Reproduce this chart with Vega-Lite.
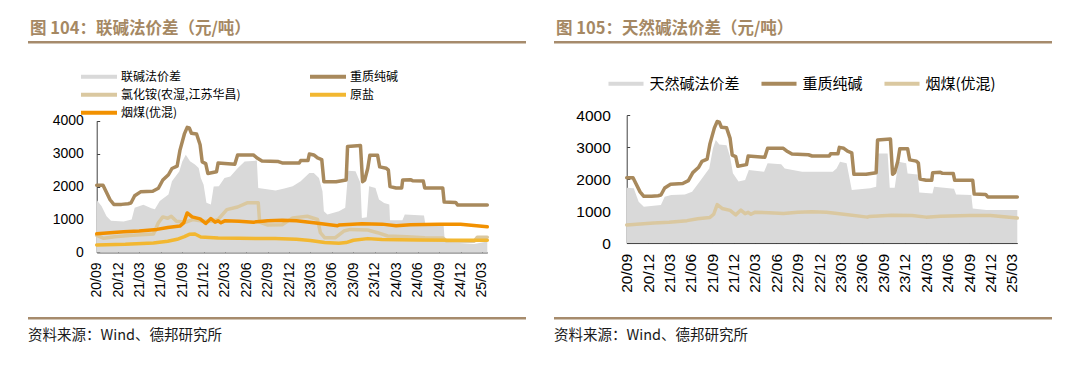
{
  "$schema": "https://vega.github.io/schema/vega-lite/v6.json",
  "background": "white",
  "padding": {"left": 28, "top": 20, "right": 0, "bottom": 0},
  "bounds": "flush",
  "columns": 2,
  "spacing": {"row": 0, "column": 28},
  "resolve": {"scale": {"color": "independent"}, "legend": {"color": "independent"}},
  "config": {
    "view": {"stroke": null},
    "font": "Noto Sans CJK SC",
    "axis": {"grid": false, "domainColor": "#404040", "tickColor": "#404040", "labelColor": "#000000", "labelFont": "Liberation Sans", "title": null, "labelOverlap": false, "labelFlush": false}
  },
  "datasets": {
    "main": [
      {"s":"联碱法价差","d":"2020-09-01","v":1590},{"s":"联碱法价差","d":"2020-09-22","v":1400},{"s":"联碱法价差","d":"2020-10-13","v":1100},{"s":"联碱法价差","d":"2020-11-01","v":960},{"s":"联碱法价差","d":"2020-12-25","v":940},{"s":"联碱法价差","d":"2021-01-28","v":1000},{"s":"联碱法价差","d":"2021-02-10","v":1360},{"s":"联碱法价差","d":"2021-03-19","v":1450},{"s":"联碱法价差","d":"2021-04-22","v":1340},{"s":"联碱法价差","d":"2021-05-07","v":1310},{"s":"联碱法价差","d":"2021-05-28","v":1560},{"s":"联碱法价差","d":"2021-07-04","v":1760},{"s":"联碱法价差","d":"2021-07-19","v":2160},{"s":"联碱法价差","d":"2021-08-19","v":2460},{"s":"联碱法价差","d":"2021-09-01","v":2765},{"s":"联碱法价差","d":"2021-09-16","v":2970},{"s":"联碱法价差","d":"2021-10-04","v":2770},{"s":"联碱法价差","d":"2021-10-25","v":2670},{"s":"联碱法价差","d":"2021-11-10","v":2565},{"s":"联碱法价差","d":"2021-11-19","v":2260},{"s":"联碱法价差","d":"2021-12-01","v":2060},{"s":"联碱法价差","d":"2021-12-13","v":1510},{"s":"联碱法价差","d":"2022-01-01","v":1455},{"s":"联碱法价差","d":"2022-01-13","v":2000},{"s":"联碱法价差","d":"2022-02-04","v":2010},{"s":"联碱法价差","d":"2022-02-28","v":2260},{"s":"联碱法价差","d":"2022-03-25","v":2310},{"s":"联碱法价差","d":"2022-04-25","v":2560},{"s":"联碱法价差","d":"2022-05-25","v":2765},{"s":"联碱法价差","d":"2022-07-16","v":2790},{"s":"联碱法价差","d":"2022-07-22","v":1960},{"s":"联碱法价差","d":"2022-10-04","v":1880},{"s":"联碱法价差","d":"2022-11-10","v":1940},{"s":"联碱法价差","d":"2022-12-16","v":2010},{"s":"联碱法价差","d":"2023-01-19","v":2160},{"s":"联碱法价差","d":"2023-02-25","v":2415},{"s":"联碱法价差","d":"2023-03-16","v":2415},{"s":"联碱法价差","d":"2023-04-07","v":2260},{"s":"联碱法价差","d":"2023-04-22","v":1860},{"s":"联碱法价差","d":"2023-04-28","v":1250},{"s":"联碱法价差","d":"2023-05-13","v":1150},{"s":"联碱法价差","d":"2023-07-01","v":1250},{"s":"联碱法价差","d":"2023-07-28","v":1355},{"s":"联碱法价差","d":"2023-08-10","v":2480},{"s":"联碱法价差","d":"2023-09-10","v":2465},{"s":"联碱法价差","d":"2023-10-01","v":2110},{"s":"联碱法价差","d":"2023-10-07","v":1050},{"s":"联碱法价差","d":"2023-10-28","v":1070},{"s":"联碱法价差","d":"2023-11-07","v":2010},{"s":"联碱法价差","d":"2023-12-04","v":1960},{"s":"联碱法价差","d":"2023-12-19","v":1605},{"s":"联碱法价差","d":"2024-01-10","v":1505},{"s":"联碱法价差","d":"2024-02-01","v":1455},{"s":"联碱法价差","d":"2024-02-04","v":980},{"s":"联碱法价差","d":"2024-03-28","v":980},{"s":"联碱法价差","d":"2024-04-07","v":1150},{"s":"联碱法价差","d":"2024-06-28","v":1120},{"s":"联碱法价差","d":"2024-07-04","v":850},{"s":"联碱法价差","d":"2024-09-19","v":880},{"s":"联碱法价差","d":"2024-09-25","v":320},{"s":"联碱法价差","d":"2025-01-28","v":260},{"s":"联碱法价差","d":"2025-03-25","v":330},
      {"s":"天然碱法价差","d":"2020-09-01","v":1730},{"s":"天然碱法价差","d":"2020-10-01","v":1710},{"s":"天然碱法价差","d":"2020-10-22","v":1290},{"s":"天然碱法价差","d":"2020-11-13","v":1135},{"s":"天然碱法价差","d":"2021-01-25","v":1190},{"s":"天然碱法价差","d":"2021-02-10","v":1450},{"s":"天然碱法价差","d":"2021-03-10","v":1500},{"s":"天然碱法价差","d":"2021-05-07","v":1520},{"s":"天然碱法价差","d":"2021-06-07","v":1600},{"s":"天然碱法价差","d":"2021-07-19","v":2020},{"s":"天然碱法价差","d":"2021-08-19","v":2330},{"s":"天然碱法价差","d":"2021-09-04","v":2960},{"s":"天然碱法价差","d":"2021-09-16","v":3220},{"s":"天然碱法价差","d":"2021-10-01","v":3080},{"s":"天然碱法价差","d":"2021-11-01","v":3060},{"s":"天然碱法价差","d":"2021-11-16","v":2700},{"s":"天然碱法价差","d":"2021-11-28","v":2180},{"s":"天然碱法价差","d":"2021-12-22","v":1920},{"s":"天然碱法价差","d":"2022-01-19","v":1970},{"s":"天然碱法价差","d":"2022-02-04","v":2280},{"s":"天然碱法价差","d":"2022-04-10","v":2230},{"s":"天然碱法价差","d":"2022-04-25","v":2490},{"s":"天然碱法价差","d":"2022-06-22","v":2460},{"s":"天然碱法价差","d":"2022-07-07","v":2330},{"s":"天然碱法价差","d":"2022-09-19","v":2230},{"s":"天然碱法价差","d":"2023-01-28","v":2230},{"s":"天然碱法价差","d":"2023-02-13","v":2330},{"s":"天然碱法价差","d":"2023-02-28","v":2540},{"s":"天然碱法价差","d":"2023-03-28","v":2490},{"s":"天然碱法价差","d":"2023-04-19","v":1660},{"s":"天然碱法价差","d":"2023-07-07","v":1710},{"s":"天然碱法价差","d":"2023-08-01","v":1760},{"s":"天然碱法价差","d":"2023-08-07","v":2800},{"s":"天然碱法价差","d":"2023-09-19","v":2800},{"s":"天然碱法价差","d":"2023-09-28","v":1730},{"s":"天然碱法价差","d":"2023-10-19","v":1730},{"s":"天然碱法价差","d":"2023-11-04","v":2540},{"s":"天然碱法价差","d":"2023-12-07","v":2490},{"s":"天然碱法价差","d":"2023-12-13","v":2175},{"s":"天然碱法价差","d":"2024-01-25","v":2140},{"s":"天然碱法价差","d":"2024-02-01","v":1580},{"s":"天然碱法价差","d":"2024-03-28","v":1550},{"s":"天然碱法价差","d":"2024-04-04","v":1760},{"s":"天然碱法价差","d":"2024-06-28","v":1700},{"s":"天然碱法价差","d":"2024-07-07","v":1520},{"s":"天然碱法价差","d":"2024-09-10","v":1500},{"s":"天然碱法价差","d":"2024-09-16","v":1080},{"s":"天然碱法价差","d":"2024-11-13","v":1030},{"s":"天然碱法价差","d":"2025-03-25","v":1030},
      {"s":"氯化铵(农湿,江苏华昌)","d":"2020-09-01","v":520},{"s":"氯化铵(农湿,江苏华昌)","d":"2020-10-01","v":430},{"s":"氯化铵(农湿,江苏华昌)","d":"2020-11-16","v":480},{"s":"氯化铵(农湿,江苏华昌)","d":"2021-02-01","v":520},{"s":"氯化铵(农湿,江苏华昌)","d":"2021-05-01","v":560},{"s":"氯化铵(农湿,江苏华昌)","d":"2021-05-22","v":900},{"s":"氯化铵(农湿,江苏华昌)","d":"2021-06-10","v":1080},{"s":"氯化铵(农湿,江苏华昌)","d":"2021-07-01","v":1040},{"s":"氯化铵(农湿,江苏华昌)","d":"2021-07-16","v":1100},{"s":"氯化铵(农湿,江苏华昌)","d":"2021-08-07","v":950},{"s":"氯化铵(农湿,江苏华昌)","d":"2021-09-16","v":920},{"s":"氯化铵(农湿,江苏华昌)","d":"2021-10-16","v":1000},{"s":"氯化铵(农湿,江苏华昌)","d":"2021-12-01","v":950},{"s":"氯化铵(农湿,江苏华昌)","d":"2022-01-01","v":950},{"s":"氯化铵(农湿,江苏华昌)","d":"2022-02-01","v":1000},{"s":"氯化铵(农湿,江苏华昌)","d":"2022-03-10","v":1300},{"s":"氯化铵(农湿,江苏华昌)","d":"2022-04-25","v":1380},{"s":"氯化铵(农湿,江苏华昌)","d":"2022-06-07","v":1510},{"s":"氯化铵(农湿,江苏华昌)","d":"2022-07-22","v":1510},{"s":"氯化铵(农湿,江苏华昌)","d":"2022-07-28","v":920},{"s":"氯化铵(农湿,江苏华昌)","d":"2022-09-01","v":830},{"s":"氯化铵(农湿,江苏华昌)","d":"2022-11-01","v":840},{"s":"氯化铵(农湿,江苏华昌)","d":"2022-12-16","v":1050},{"s":"氯化铵(农湿,江苏华昌)","d":"2023-02-16","v":1100},{"s":"氯化铵(农湿,江苏华昌)","d":"2023-04-01","v":1000},{"s":"氯化铵(农湿,江苏华昌)","d":"2023-04-13","v":600},{"s":"氯化铵(农湿,江苏华昌)","d":"2023-05-01","v":450},{"s":"氯化铵(农湿,江苏华昌)","d":"2023-06-16","v":450},{"s":"氯化铵(农湿,江苏华昌)","d":"2023-07-22","v":650},{"s":"氯化铵(农湿,江苏华昌)","d":"2023-08-19","v":700},{"s":"氯化铵(农湿,江苏华昌)","d":"2023-11-01","v":680},{"s":"氯化铵(农湿,江苏华昌)","d":"2023-12-13","v":600},{"s":"氯化铵(农湿,江苏华昌)","d":"2024-01-25","v":500},{"s":"氯化铵(农湿,江苏华昌)","d":"2024-04-16","v":480},{"s":"氯化铵(农湿,江苏华昌)","d":"2024-07-01","v":450},{"s":"氯化铵(农湿,江苏华昌)","d":"2024-09-16","v":440},{"s":"氯化铵(农湿,江苏华昌)","d":"2024-10-01","v":350},{"s":"氯化铵(农湿,江苏华昌)","d":"2025-01-28","v":340},{"s":"氯化铵(农湿,江苏华昌)","d":"2025-02-10","v":460},{"s":"氯化铵(农湿,江苏华昌)","d":"2025-03-25","v":460},
      {"s":"原盐","d":"2020-09-01","v":230},{"s":"原盐","d":"2021-01-01","v":250},{"s":"原盐","d":"2021-05-01","v":290},{"s":"原盐","d":"2021-07-01","v":340},{"s":"原盐","d":"2021-08-10","v":400},{"s":"原盐","d":"2021-09-10","v":480},{"s":"原盐","d":"2021-10-01","v":550},{"s":"原盐","d":"2021-10-25","v":560},{"s":"原盐","d":"2021-11-19","v":470},{"s":"原盐","d":"2022-02-01","v":440},{"s":"原盐","d":"2022-05-01","v":430},{"s":"原盐","d":"2022-10-01","v":420},{"s":"原盐","d":"2023-01-01","v":400},{"s":"原盐","d":"2023-03-01","v":360},{"s":"原盐","d":"2023-05-01","v":300},{"s":"原盐","d":"2023-07-01","v":280},{"s":"原盐","d":"2023-08-01","v":300},{"s":"原盐","d":"2023-09-01","v":370},{"s":"原盐","d":"2023-11-01","v":420},{"s":"原盐","d":"2024-01-01","v":390},{"s":"原盐","d":"2024-06-01","v":380},{"s":"原盐","d":"2024-11-01","v":370},{"s":"原盐","d":"2025-03-25","v":370},
      {"s":"烟煤(优混)","d":"2020-09-01","v":566},{"s":"烟煤(优混)","d":"2020-12-25","v":626},{"s":"烟煤(优混)","d":"2021-03-01","v":650},{"s":"烟煤(优混)","d":"2021-05-16","v":700},{"s":"烟煤(优混)","d":"2021-07-01","v":760},{"s":"烟煤(优混)","d":"2021-08-22","v":800},{"s":"烟煤(优混)","d":"2021-09-07","v":900},{"s":"烟煤(优混)","d":"2021-09-22","v":1200},{"s":"烟煤(优混)","d":"2021-10-13","v":1080},{"s":"烟煤(优混)","d":"2021-11-16","v":1020},{"s":"烟煤(优混)","d":"2021-12-10","v":880},{"s":"烟煤(优混)","d":"2022-01-01","v":1030},{"s":"烟煤(优混)","d":"2022-01-19","v":920},{"s":"烟煤(优混)","d":"2022-02-01","v":960},{"s":"烟煤(优混)","d":"2022-02-13","v":900},{"s":"烟煤(优混)","d":"2022-03-01","v":960},{"s":"烟煤(优混)","d":"2022-05-01","v":950},{"s":"烟煤(优混)","d":"2022-07-01","v":920},{"s":"烟煤(优混)","d":"2022-09-01","v":960},{"s":"烟煤(优混)","d":"2022-11-01","v":975},{"s":"烟煤(优混)","d":"2023-01-01","v":960},{"s":"烟煤(优混)","d":"2023-03-16","v":900},{"s":"烟煤(优混)","d":"2023-06-25","v":810},{"s":"烟煤(优混)","d":"2023-07-01","v":830},{"s":"烟煤(优混)","d":"2023-10-07","v":870},{"s":"烟煤(优混)","d":"2024-01-01","v":860},{"s":"烟煤(优混)","d":"2024-03-01","v":810},{"s":"烟煤(优混)","d":"2024-05-01","v":840},{"s":"烟煤(优混)","d":"2024-09-01","v":860},{"s":"烟煤(优混)","d":"2024-12-01","v":860},{"s":"烟煤(优混)","d":"2025-03-25","v":780},
      {"s":"重质纯碱","d":"2020-09-01","v":2040},{"s":"重质纯碱","d":"2020-09-28","v":2040},{"s":"重质纯碱","d":"2020-10-28","v":1600},{"s":"重质纯碱","d":"2020-11-13","v":1460},{"s":"重质纯碱","d":"2020-12-16","v":1460},{"s":"重质纯碱","d":"2021-01-13","v":1480},{"s":"重质纯碱","d":"2021-01-25","v":1500},{"s":"重质纯碱","d":"2021-02-10","v":1720},{"s":"重质纯碱","d":"2021-03-07","v":1840},{"s":"重质纯碱","d":"2021-04-28","v":1860},{"s":"重质纯碱","d":"2021-05-22","v":1950},{"s":"重质纯碱","d":"2021-06-10","v":2200},{"s":"重质纯碱","d":"2021-07-04","v":2360},{"s":"重质纯碱","d":"2021-07-19","v":2550},{"s":"重质纯碱","d":"2021-08-10","v":2620},{"s":"重质纯碱","d":"2021-08-22","v":3100},{"s":"重质纯碱","d":"2021-09-10","v":3600},{"s":"重质纯碱","d":"2021-09-22","v":3800},{"s":"重质纯碱","d":"2021-10-01","v":3780},{"s":"重质纯碱","d":"2021-10-10","v":3620},{"s":"重质纯碱","d":"2021-11-01","v":3600},{"s":"重质纯碱","d":"2021-11-16","v":3270},{"s":"重质纯碱","d":"2021-11-25","v":2750},{"s":"重质纯碱","d":"2021-12-10","v":2700},{"s":"重质纯碱","d":"2021-12-19","v":2400},{"s":"重质纯碱","d":"2022-01-25","v":2450},{"s":"重质纯碱","d":"2022-02-01","v":2720},{"s":"重质纯碱","d":"2022-04-13","v":2680},{"s":"重质纯碱","d":"2022-04-25","v":2960},{"s":"重质纯碱","d":"2022-07-01","v":2960},{"s":"重质纯碱","d":"2022-07-19","v":2860},{"s":"重质纯碱","d":"2022-08-07","v":2780},{"s":"重质纯碱","d":"2022-10-16","v":2760},{"s":"重质纯碱","d":"2022-11-01","v":2720},{"s":"重质纯碱","d":"2023-01-13","v":2720},{"s":"重质纯碱","d":"2023-01-19","v":2790},{"s":"重质纯碱","d":"2023-02-19","v":2790},{"s":"重质纯碱","d":"2023-02-25","v":2990},{"s":"重质纯碱","d":"2023-03-16","v":2960},{"s":"重质纯碱","d":"2023-04-01","v":2870},{"s":"重质纯碱","d":"2023-04-19","v":2820},{"s":"重质纯碱","d":"2023-04-28","v":2150},{"s":"重质纯碱","d":"2023-06-19","v":2150},{"s":"重质纯碱","d":"2023-08-01","v":2200},{"s":"重质纯碱","d":"2023-08-07","v":3220},{"s":"重质纯碱","d":"2023-10-01","v":3250},{"s":"重质纯碱","d":"2023-10-10","v":2150},{"s":"重质纯碱","d":"2023-10-19","v":2200},{"s":"重质纯碱","d":"2023-11-01","v":2550},{"s":"重质纯碱","d":"2023-11-10","v":2950},{"s":"重质纯碱","d":"2023-12-13","v":2950},{"s":"重质纯碱","d":"2023-12-22","v":2600},{"s":"重质纯碱","d":"2024-01-19","v":2560},{"s":"重质纯碱","d":"2024-01-28","v":2500},{"s":"重质纯碱","d":"2024-02-04","v":2000},{"s":"重质纯碱","d":"2024-03-01","v":1960},{"s":"重质纯碱","d":"2024-03-25","v":1960},{"s":"重质纯碱","d":"2024-03-29","v":2200},{"s":"重质纯碱","d":"2024-05-01","v":2210},{"s":"重质纯碱","d":"2024-05-10","v":2180},{"s":"重质纯碱","d":"2024-06-25","v":2170},{"s":"重质纯碱","d":"2024-07-01","v":1960},{"s":"重质纯碱","d":"2024-09-16","v":1960},{"s":"重质纯碱","d":"2024-09-22","v":1530},{"s":"重质纯碱","d":"2024-11-10","v":1520},{"s":"重质纯碱","d":"2024-11-19","v":1440},{"s":"重质纯碱","d":"2025-03-25","v":1440}
    ]
  },
  "concat": [
    {
      "width": 498, "height": 2.5,
      "view": {"fill": "#a68b6c", "stroke": null},
      "title": {"text": "图 104：联碱法价差（元/吨）", "anchor": "start", "orient": "top", "offset": 4, "dx": 2, "fontSize": 16.5, "fontWeight": "bold", "color": "#a58863", "font": "Noto Sans CJK SC"},
      "data": {"values": []},
      "mark": "point",
      "encoding": {}
    },
    {
      "width": 498, "height": 2.5,
      "view": {"fill": "#a68b6c", "stroke": null},
      "title": {"text": "图 105：天然碱法价差（元/吨）", "anchor": "start", "orient": "top", "offset": 4, "dx": 2, "fontSize": 16.5, "fontWeight": "bold", "color": "#a58863", "font": "Noto Sans CJK SC"},
      "data": {"values": []},
      "mark": "point",
      "encoding": {}
    },
    {
      "width": 498, "height": 272.5,
      "data": {"name": "main"},
      "encoding": {
        "x": {"field": "d", "type": "temporal",
          "scale": {"type": "utc", "domain": [{"year": 2020, "month": 9, "date": 1, "utc": true}, {"year": 2025, "month": 3, "date": 25, "utc": true}], "range": [68.7, 459.3]},
          "axis": {"values": [{"year":2020,"month":9,"date":1,"utc":true},{"year":2020,"month":12,"date":1,"utc":true},{"year":2021,"month":3,"date":1,"utc":true},{"year":2021,"month":6,"date":1,"utc":true},{"year":2021,"month":9,"date":1,"utc":true},{"year":2021,"month":12,"date":1,"utc":true},{"year":2022,"month":3,"date":1,"utc":true},{"year":2022,"month":6,"date":1,"utc":true},{"year":2022,"month":9,"date":1,"utc":true},{"year":2022,"month":12,"date":1,"utc":true},{"year":2023,"month":3,"date":1,"utc":true},{"year":2023,"month":6,"date":1,"utc":true},{"year":2023,"month":9,"date":1,"utc":true},{"year":2023,"month":12,"date":1,"utc":true},{"year":2024,"month":3,"date":1,"utc":true},{"year":2024,"month":6,"date":1,"utc":true},{"year":2024,"month":9,"date":1,"utc":true},{"year":2024,"month":12,"date":1,"utc":true},{"year":2025,"month":3,"date":1,"utc":true}],
            "format": "%y/%m", "labelAngle": -90, "labelFontSize": 14, "tickSize": -4, "labelPadding": 13.5, "offset": -64.05, "title": null}},
        "y": {"field": "v", "type": "quantitative",
          "scale": {"domain": [0, 4000], "range": [208.45, 76.75], "nice": false, "zero": true},
          "axis": {"values": [0, 1000, 2000, 3000, 4000], "format": "d", "tickSize": -3, "labelPadding": 16.4, "offset": -68.7, "labelFontSize": 14, "title": null}}
      },
      "layer": [
        {
          "transform": [{"filter": {"field": "s", "equal": "联碱法价差"}}],
          "mark": {"type": "area", "opacity": 1},
          "encoding": {
            "color": {"field": "s", "type": "nominal",
              "scale": {"domain": ["联碱法价差", "重质纯碱", "氯化铵(农湿,江苏华昌)", "原盐", "烟煤(优混)"], "range": ["#d9d9d9", "#a8895c", "#dac8a0", "#f2b731", "#f29100"]},
              "legend": {"orient": "none", "legendX": 65, "legendY": 26.75, "direction": "horizontal", "columns": 2, "columnPadding": 69, "rowPadding": 6, "title": null, "padding": 0,
                "labelFontSize": 12, "labelFont": "Noto Sans CJK SC", "labelColor": "#000000", "labelOffset": 16, "labelLimit": 400,
                "symbolSize": 144, "symbolStrokeWidth": 0, "symbolType": "M-3,-0.33H3V0.33H-3Z",
                "encode": {"symbols": {
                  "shape": {"condition": {"test": "datum.value === '联碱法价差'", "value": "M-3,-0.63H3V0.63H-3Z"}, "value": "M-3,-0.33H3V0.33H-3Z"},
                  "fill": {"condition": [{"test": "datum.value === '联碱法价差'", "value": "#d9d9d9"}, {"test": "datum.value === '重质纯碱'", "value": "#a8895c"}, {"test": "datum.value === '原盐'", "value": "#f2b731"}, {"test": "datum.value === '烟煤(优混)'", "value": "#f29100"}], "value": "#dac8a0"},
                  "stroke": {"value": "transparent"},
                  "opacity": {"value": 1}
                }}}}
          }
        },
        {
          "transform": [{"filter": {"field": "s", "oneOf": ["重质纯碱", "氯化铵(农湿,江苏华昌)", "原盐", "烟煤(优混)"]}}],
          "mark": {"type": "line", "strokeWidth": 3.5, "strokeJoin": "round", "strokeCap": "round"},
          "encoding": {"color": {"field": "s", "type": "nominal"}}
        }
      ]
    },
    {
      "width": 498, "height": 272.5,
      "data": {"name": "main"},
      "encoding": {
        "x": {"field": "d", "type": "temporal",
          "scale": {"type": "utc", "domain": [{"year": 2020, "month": 9, "date": 1, "utc": true}, {"year": 2025, "month": 3, "date": 25, "utc": true}], "range": [72.7, 463.3]},
          "axis": {"values": [{"year":2020,"month":9,"date":1,"utc":true},{"year":2020,"month":12,"date":1,"utc":true},{"year":2021,"month":3,"date":1,"utc":true},{"year":2021,"month":6,"date":1,"utc":true},{"year":2021,"month":9,"date":1,"utc":true},{"year":2021,"month":12,"date":1,"utc":true},{"year":2022,"month":3,"date":1,"utc":true},{"year":2022,"month":6,"date":1,"utc":true},{"year":2022,"month":9,"date":1,"utc":true},{"year":2022,"month":12,"date":1,"utc":true},{"year":2023,"month":3,"date":1,"utc":true},{"year":2023,"month":6,"date":1,"utc":true},{"year":2023,"month":9,"date":1,"utc":true},{"year":2023,"month":12,"date":1,"utc":true},{"year":2024,"month":3,"date":1,"utc":true},{"year":2024,"month":6,"date":1,"utc":true},{"year":2024,"month":9,"date":1,"utc":true},{"year":2024,"month":12,"date":1,"utc":true},{"year":2025,"month":3,"date":1,"utc":true}],
            "format": "%y/%m", "labelAngle": -90, "labelFontSize": 15.5, "tickSize": -4, "labelPadding": 14.4, "offset": -73.45, "title": null}},
        "y": {"field": "v", "type": "quantitative",
          "scale": {"domain": [0, 4000], "range": [199.05, 71.05], "nice": false, "zero": true},
          "axis": {"values": [0, 1000, 2000, 3000, 4000], "format": "d", "tickSize": -3, "labelPadding": 19.4, "offset": -72.7, "labelFontSize": 15.5, "title": null}}
      },
      "layer": [
        {
          "transform": [{"filter": {"field": "s", "equal": "天然碱法价差"}}],
          "mark": {"type": "area", "opacity": 1},
          "encoding": {
            "color": {"field": "s", "type": "nominal",
              "scale": {"domain": ["天然碱法价差", "重质纯碱", "烟煤(优混)"], "range": ["#d9d9d9", "#a8895c", "#dac8a0"]},
              "legend": {"orient": "none", "legendX": 64, "legendY": 31.75, "direction": "horizontal", "columns": 3, "columnPadding": 21, "title": null, "padding": 0,
                "labelFontSize": 15, "labelFont": "Noto Sans CJK SC", "labelColor": "#000000", "labelOffset": 15.5, "labelLimit": 400,
                "symbolSize": 256, "symbolStrokeWidth": 0, "symbolType": "M-2.19,-0.25H2.19V0.25H-2.19Z",
                "encode": {"symbols": {
                  "shape": {"condition": {"test": "datum.value === '天然碱法价差'", "value": "M-2.19,-0.47H2.19V0.47H-2.19Z"}, "value": "M-2.19,-0.25H2.19V0.25H-2.19Z"},
                  "fill": {"condition": [{"test": "datum.value === '天然碱法价差'", "value": "#d9d9d9"}, {"test": "datum.value === '重质纯碱'", "value": "#a8895c"}], "value": "#dac8a0"},
                  "stroke": {"value": "transparent"},
                  "opacity": {"value": 1}
                }}}}
          }
        },
        {
          "transform": [{"filter": {"field": "s", "oneOf": ["重质纯碱", "烟煤(优混)"]}}],
          "mark": {"type": "line", "strokeWidth": 3.5, "strokeJoin": "round", "strokeCap": "round"},
          "encoding": {"color": {"field": "s", "type": "nominal"}}
        }
      ]
    },
    {
      "width": 498, "height": 2.5,
      "view": {"fill": "#a68b6c", "stroke": null},
      "title": {"text": "资料来源：Wind、德邦研究所", "anchor": "start", "orient": "bottom", "offset": 9, "fontSize": 14.5, "fontWeight": "normal", "color": "#1a1a1a", "font": "Noto Sans CJK SC"},
      "data": {"values": []},
      "mark": "point",
      "encoding": {}
    },
    {
      "width": 498, "height": 2.5,
      "view": {"fill": "#a68b6c", "stroke": null},
      "title": {"text": "资料来源：Wind、德邦研究所", "anchor": "start", "orient": "bottom", "offset": 9, "fontSize": 14.5, "fontWeight": "normal", "color": "#1a1a1a", "font": "Noto Sans CJK SC"},
      "data": {"values": []},
      "mark": "point",
      "encoding": {}
    }
  ]
}
